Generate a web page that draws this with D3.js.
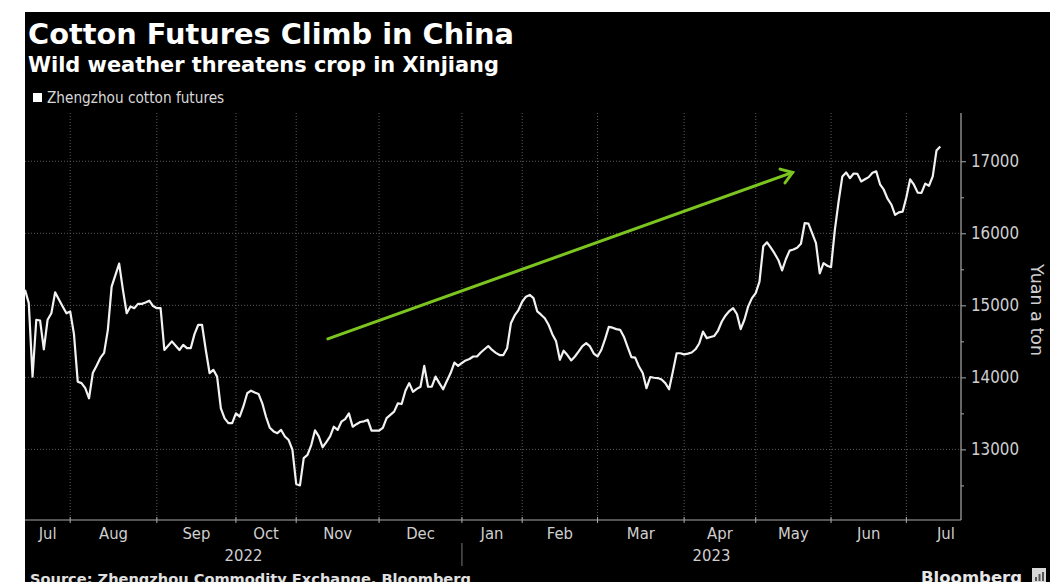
<!DOCTYPE html>
<html>
<head>
<meta charset="utf-8">
<script src="https://cdn.jsdelivr.net/npm/d3@7/dist/d3.min.js"></script>
<style>
  html, body { margin: 0; padding: 0; background: #fff; }
  svg { display: block; }
</style>
</head>
<body>
<svg id="chart" width="1052" height="582"></svg>
<script>
// Zhengzhou cotton futures, daily settlement (yuan per ton), one value per trading session
const prices = [
  15215, 15030, 14010, 14800, 14790, 14390, 14800, 14890, 15180, 15080,
  14985, 14890, 14915, 14600, 13940, 13920, 13850, 13710, 14060, 14160,
  14270, 14340, 14660, 15260, 15420, 15580, 15215, 14890, 14985, 14960,
  15020, 15020, 15040, 15065, 14990, 14960, 14960, 14380, 14440, 14500,
  14440, 14380, 14450, 14405, 14405, 14600, 14730, 14730, 14380, 14060,
  14105, 14010, 13570, 13430, 13365, 13365, 13500, 13455, 13600, 13780,
  13815, 13790, 13770, 13640, 13450, 13300, 13250, 13225, 13270, 13180,
  13130, 12995, 12520, 12500, 12880, 12925, 13060, 13265, 13180, 13030,
  13100, 13180, 13315, 13270, 13385, 13420, 13500, 13315, 13350, 13380,
  13390, 13410, 13260, 13260, 13260, 13300, 13435, 13480, 13525, 13640,
  13630, 13815, 13920, 13800, 13840, 13870, 14160, 13870, 13870, 14010,
  13920, 13835, 13950, 14060, 14205, 14160, 14200, 14235, 14255, 14290,
  14290, 14345, 14390, 14435, 14380, 14340, 14310, 14310, 14405, 14750,
  14860, 14935, 15050, 15120, 15145, 15100, 14915, 14870, 14820, 14730,
  14600, 14500, 14245, 14370, 14310, 14235, 14290, 14360, 14435, 14475,
  14430, 14330, 14290, 14380, 14530, 14700, 14690, 14670, 14660, 14565,
  14420, 14280, 14275, 14150, 14060, 13850, 14005, 13995, 13990, 13970,
  13920, 13835, 14080, 14335, 14335, 14320, 14330, 14345, 14390, 14470,
  14635, 14545, 14560, 14575, 14650, 14775, 14860, 14920, 14960, 14880,
  14670, 14800, 14985, 15100, 15170, 15330, 15820, 15875, 15800, 15720,
  15630, 15485, 15640, 15760, 15775, 15800, 15855, 16140, 16135, 16000,
  15865, 15445, 15585, 15550, 15530, 16045, 16440, 16790, 16845, 16765,
  16830, 16825, 16720, 16750, 16780, 16840, 16860, 16680, 16605, 16480,
  16400, 16255, 16290, 16300, 16500, 16750, 16675, 16565, 16560, 16690,
  16660, 16790, 17150, 17205
];

// Calendar: trading sessions per month on the exchange (first month is partial)
const monthLabels   = ["Jul", "Aug", "Sep", "Oct", "Nov", "Dec", "Jan", "Feb", "Mar", "Apr", "May", "Jun", "Jul"];
const monthSessions = [12, 23, 21, 16, 22, 22, 16, 20, 23, 19, 20, 20, 21];
const yearLabels    = ["2022", "2023"];
const yearMonths    = [6, 7];

// Value axis ticks
const majorTicks = [13000, 14000, 15000, 16000, 17000];
const minorTicks = [12500, 13500, 14500, 15500, 16500];

// Trend annotation: [session, price] at tail and head
const trendArrow = [[80.4, 14535], [203.8, 16845]];

const svg = d3.select("#chart");

// dark panel
svg.append("rect").attr("x", 25).attr("y", 12).attr("width", 1025).attr("height", 570).attr("fill", "#000");

const plot = { left: 25, right: 961, top: 113, bottom: 520 };
const sessionEnd = 248.5;

const x = d3.scaleLinear().domain([0, sessionEnd]).range([plot.left, plot.right]);
const y = d3.scaleLinear().domain([12020, 17670]).range([plot.bottom, plot.top]);

// month boundaries in session units
const monthStarts = [];
let acc = 0;
monthSessions.forEach(n => { monthStarts.push(acc); acc += n; });
const monthEnds = monthStarts.map((s, i) => s + monthSessions[i]);
const boundaries = monthStarts.slice(1);

// ---- titles ----
svg.append("text").attr("x", 28).attr("y", 44)
  .attr("font-family", "DejaVu Sans").attr("font-weight", "bold").attr("font-size", 28.8)
  .attr("fill", "#fff").text("Cotton Futures Climb in China");
svg.append("text").attr("x", 28).attr("y", 72)
  .attr("font-family", "DejaVu Sans").attr("font-weight", "bold").attr("font-size", 20.9)
  .attr("fill", "#fff").text("Wild weather threatens crop in Xinjiang");

// legend
svg.append("rect").attr("x", 33).attr("y", 93).attr("width", 9).attr("height", 9).attr("fill", "#fff");
svg.append("text").attr("x", 47).attr("y", 103)
  .attr("font-family", "DejaVu Sans Condensed").attr("font-size", 15.2)
  .attr("fill", "#d8d8d8").text("Zhengzhou cotton futures");

// ---- grid ----
const grid = svg.append("g");
grid.selectAll("line.h").data(majorTicks).join("line")
  .attr("x1", plot.left).attr("x2", plot.right)
  .attr("y1", d => y(d)).attr("y2", d => y(d))
  .attr("stroke", "#5a5a5a").attr("stroke-width", 1).attr("stroke-dasharray", "1,2");
grid.selectAll("line.v").data(boundaries).join("line")
  .attr("x1", d => x(d)).attr("x2", d => x(d))
  .attr("y1", plot.top).attr("y2", plot.bottom)
  .attr("stroke", "#5a5a5a").attr("stroke-width", 1).attr("stroke-dasharray", "1,2");

// ---- right value axis ----
const yAxis = svg.append("g").attr("transform", `translate(${plot.right},0)`)
  .call(d3.axisRight(y).tickValues(majorTicks).tickSize(5).tickPadding(5).tickFormat(d3.format("d")));
yAxis.select(".domain").remove();
yAxis.selectAll("line").attr("stroke", "#aaa");
yAxis.selectAll("text").attr("fill", "#cfcfcf").attr("font-family", "DejaVu Sans Condensed").attr("font-size", 16.8);

const yMinor = svg.append("g").attr("transform", `translate(${plot.right},0)`)
  .call(d3.axisRight(y).tickValues(minorTicks).tickSize(3).tickFormat(""));
yMinor.select(".domain").remove();
yMinor.selectAll("line").attr("stroke", "#aaa");

svg.append("line").attr("x1", plot.right).attr("x2", plot.right)
  .attr("y1", plot.top).attr("y2", plot.bottom).attr("stroke", "#aaa").attr("stroke-width", 1.2);

svg.append("text")
  .attr("transform", `translate(1037,310) rotate(90)`)
  .attr("text-anchor", "middle").attr("dominant-baseline", "central")
  .attr("font-family", "DejaVu Sans").attr("font-size", 17.5)
  .attr("fill", "#cfcfcf").text("Yuan a ton");

// ---- bottom time axis ----
svg.append("line").attr("x1", plot.left).attr("x2", plot.right)
  .attr("y1", plot.bottom).attr("y2", plot.bottom).attr("stroke", "#aaa").attr("stroke-width", 1.2);
svg.selectAll("line.mt").data(boundaries).join("line")
  .attr("x1", d => x(d)).attr("x2", d => x(d))
  .attr("y1", plot.bottom - 3).attr("y2", plot.bottom + 3)
  .attr("stroke", "#aaa");

svg.selectAll("text.month").data(monthLabels).join("text")
  .attr("x", (d, i) => x((monthStarts[i] + monthEnds[i]) / 2))
  .attr("y", 539)
  .attr("text-anchor", "middle")
  .attr("font-family", "DejaVu Sans Condensed").attr("font-size", 16.5)
  .attr("fill", "#cfcfcf").text(d => d);

// year labels, each centred over its span of months
let mAcc = 0;
const yearSpans = yearMonths.map(n => {
  const s = monthStarts[mAcc];
  mAcc += n;
  return [s, mAcc < monthStarts.length ? monthStarts[mAcc] : sessionEnd];
});
svg.selectAll("text.year").data(yearLabels).join("text")
  .attr("x", (d, i) => x((yearSpans[i][0] + yearSpans[i][1]) / 2))
  .attr("y", 561)
  .attr("text-anchor", "middle")
  .attr("font-family", "DejaVu Sans Condensed").attr("font-size", 16.5)
  .attr("fill", "#cfcfcf").text(d => d);
svg.append("line")
  .attr("x1", x(yearSpans[1][0])).attr("x2", x(yearSpans[1][0]))
  .attr("y1", 543).attr("y2", 566).attr("stroke", "#777");

// ---- price line ----
const line = d3.line().x((d, i) => x(i)).y(d => y(d));
svg.append("path").datum(prices)
  .attr("d", line)
  .attr("fill", "none").attr("stroke", "#f2f2f2").attr("stroke-width", 2.2)
  .attr("stroke-linejoin", "round");

// ---- trend arrow ----
const [a0, a1] = trendArrow.map(([s, p]) => [x(s), y(p)]);
const green = "#7cc520";
svg.append("line").attr("x1", a0[0]).attr("y1", a0[1]).attr("x2", a1[0]).attr("y2", a1[1])
  .attr("stroke", green).attr("stroke-width", 3).attr("stroke-linecap", "round");
const ang = Math.atan2(a0[1] - a1[1], a0[0] - a1[0]);
const head = [ang - 0.6, ang + 0.6].map(t => [a1[0] + 13 * Math.cos(t), a1[1] + 13 * Math.sin(t)]);
svg.append("path")
  .attr("d", `M${head[0][0]},${head[0][1]}L${a1[0]},${a1[1]}L${head[1][0]},${head[1][1]}`)
  .attr("fill", "none").attr("stroke", green).attr("stroke-width", 3)
  .attr("stroke-linecap", "round").attr("stroke-linejoin", "miter");

// ---- footer ----
svg.append("text").attr("x", 30).attr("y", 584)
  .attr("font-family", "DejaVu Sans").attr("font-weight", "bold").attr("font-size", 14.6)
  .attr("fill", "#e0e0e0").text("Source: Zhengzhou Commodity Exchange, Bloomberg");
svg.append("text").attr("x", 921).attr("y", 583)
  .attr("font-family", "DejaVu Sans").attr("font-weight", "bold").attr("font-size", 16.5)
  .attr("fill", "#e6e6e6").text("Bloomberg");
svg.append("rect").attr("x", 1032).attr("y", 568).attr("width", 14).attr("height", 14).attr("fill", "#d8d8d8");
[[1035, 577, 2, 4], [1038.5, 574, 2, 7], [1042, 572, 2, 9]].forEach(([bx, by, bw, bh]) => {
  svg.append("rect").attr("x", bx).attr("y", by).attr("width", bw).attr("height", bh).attr("fill", "#555");
});
</script>
</body>
</html>
